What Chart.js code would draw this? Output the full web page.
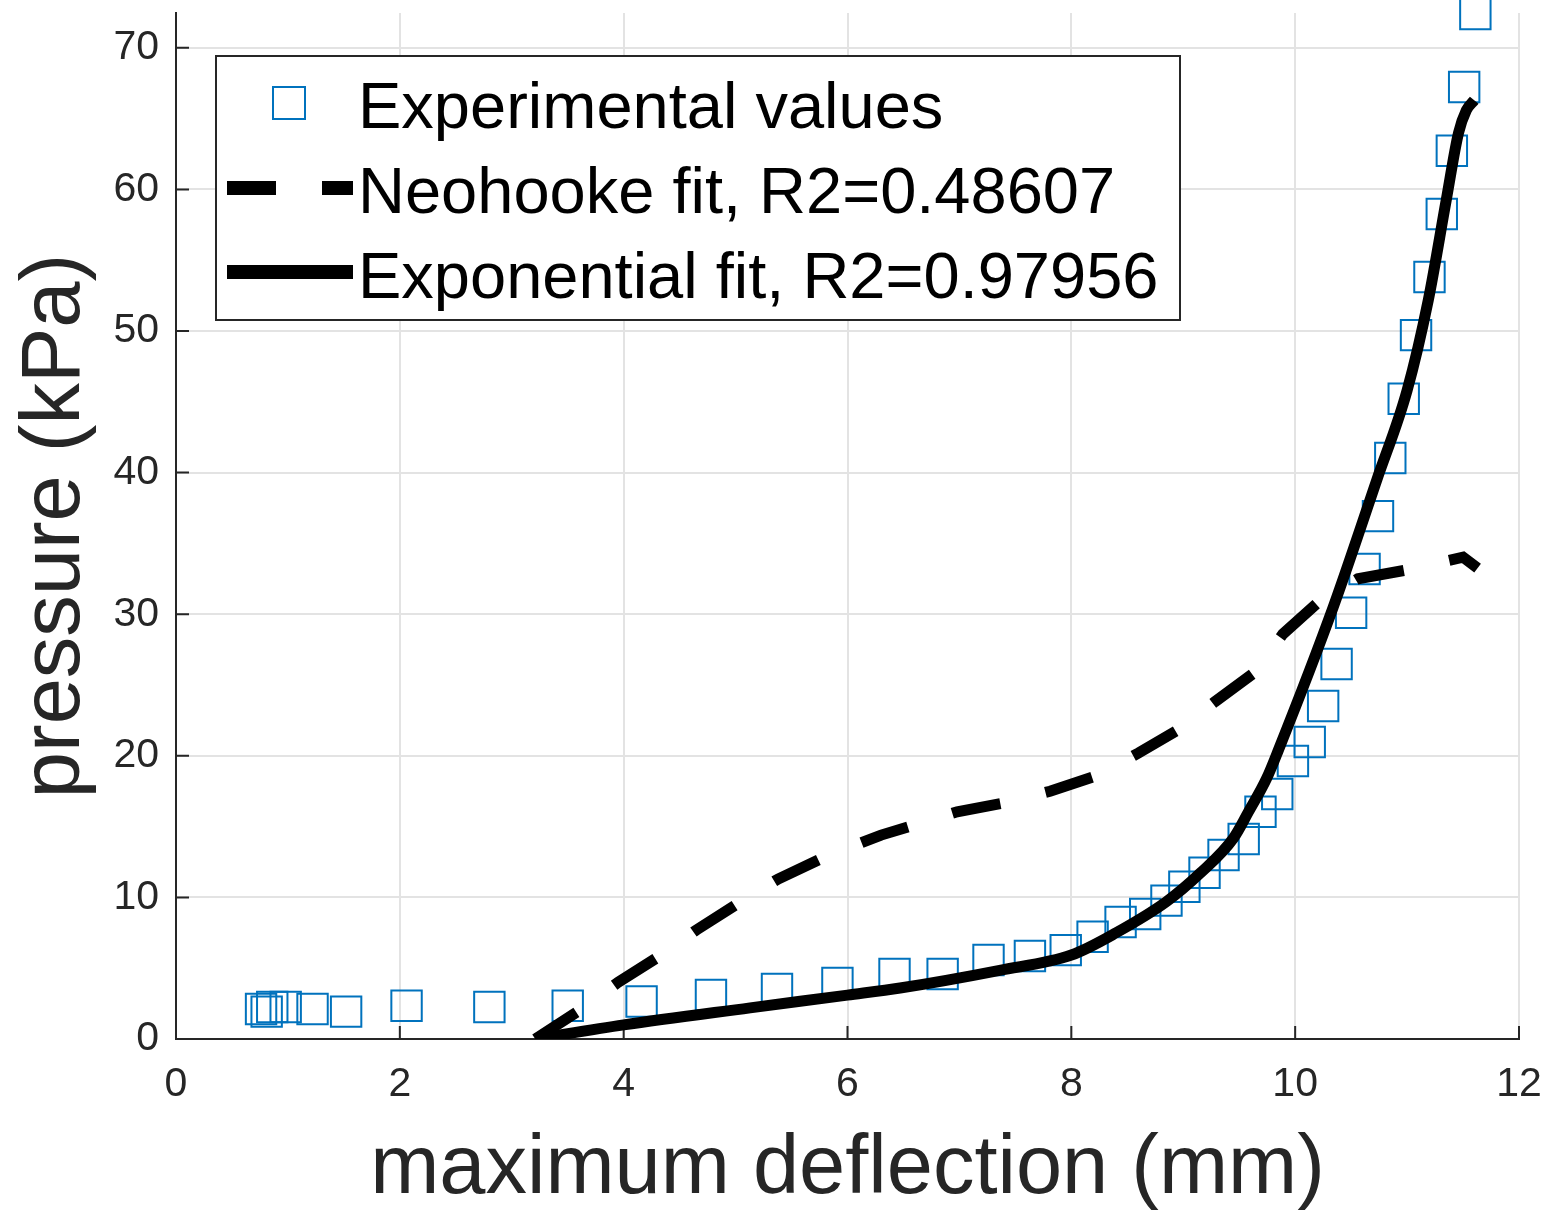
<!DOCTYPE html>
<html lang="en">
<head>
<meta charset="UTF-8">
<title>pressure vs maximum deflection</title>
<script src="https://cdn.jsdelivr.net/npm/chart.js"></script>
<style>
    * { margin: 0; padding: 0; box-sizing: border-box; }
    body { background: #fff; }
    .chart-box { position: relative; width: 1546px; height: 1215px; }
</style>
</head>
<body>
<div class="chart-box"><canvas id="fitChart"></canvas></div>
<script>
// measured points (deflection in mm, pressure in kPa)
const expDeflection = [0.76, 0.81, 0.86, 0.98, 1.22, 1.52, 2.06, 2.80, 3.50, 4.16, 4.78, 5.37, 5.91, 6.42, 6.85,
    7.26, 7.63, 7.95, 8.19, 8.44, 8.66, 8.85, 9.01, 9.19, 9.36, 9.54, 9.69, 9.84, 9.98, 10.13,
    10.25, 10.37, 10.50, 10.62, 10.74, 10.85, 10.97, 11.08, 11.20, 11.31, 11.40, 11.51, 11.61];
const expPressure = [2.12, 1.93, 2.26, 2.26, 2.12, 1.93, 2.35, 2.26, 2.35, 2.65, 3.11, 3.53, 3.95, 4.59, 4.59,
    5.58, 5.86, 6.28, 7.22, 8.26, 8.83, 9.77, 10.75, 11.74, 12.99, 14.12, 16.05, 17.30, 19.63, 20.97,
    23.52, 26.48, 30.10, 33.19, 36.93, 41.03, 45.22, 49.71, 53.81, 58.26, 62.73, 67.23, 72.38];

// Neohooke fit curve
const neoDeflection = [3.21, 3.64, 3.95, 4.34, 4.65, 5.04, 5.38, 5.78, 6.30, 6.59, 6.98, 7.42, 7.81, 8.23, 8.60,
    8.97, 9.28, 9.64, 9.89, 10.20, 10.56, 10.98, 11.37, 11.50, 11.63];
const neoPressure = [0.0, 2.2, 4.0, 5.95, 7.7, 9.67, 11.3, 12.8, 14.4, 15.1, 16.05, 16.7, 17.5, 18.6, 20.2,
    21.9, 23.8, 25.9, 28.6, 30.8, 32.5, 33.1, 33.8, 34.03, 33.25];

// Exponential fit curve
const expoDeflection = [3.21, 4.0, 5.13, 6.0, 6.47, 7.36, 8.0, 8.4, 8.85, 9.15, 9.45, 9.58, 9.745, 9.85, 10.34,
    10.73, 11.0, 11.19, 11.35, 11.46, 11.53, 11.6];
const expoPressure = [0.0, 1.0, 2.2, 3.1, 3.6, 4.85, 5.93, 7.5, 9.7, 11.7, 14.2, 16.0, 18.4, 20.4, 30.5,
    39.5, 45.8, 52.2, 59.25, 64.0, 65.6, 66.3];

const xTicks = [0, 2, 4, 6, 8, 10, 12];
const yTicks = [0, 10, 20, 30, 40, 50, 60, 70];
const legendLabels = ['Experimental values', 'Neohooke fit, R2=0.48607', 'Exponential fit, R2=0.97956'];

const toXY = (xs, ys) => xs.map((x, i) => ({ x: x, y: ys[i] }));
const FONT = '"Liberation Sans", Arial, sans-serif';
const AXIS = '#262626';
const BLUE = '#0072BD';

// matlab style ticks pointing inside the axes
const innerTicks = {
    id: 'innerTicks',
    beforeDatasetsDraw(chart) {
        const { ctx, chartArea, scales } = chart;
        ctx.save();
        ctx.strokeStyle = AXIS;
        ctx.lineWidth = 2;
        ctx.beginPath();
        xTicks.forEach(v => {
            const px = scales.x.getPixelForValue(v);
            ctx.moveTo(px, chartArea.bottom);
            ctx.lineTo(px, chartArea.bottom - 13);
        });
        yTicks.forEach(v => {
            const py = scales.y.getPixelForValue(v);
            ctx.moveTo(chartArea.left, py);
            ctx.lineTo(chartArea.left + 13, py);
        });
        ctx.stroke();
        ctx.restore();
    }
};

// legend box in the upper left corner
const legendBox = {
    id: 'legendBox',
    afterDatasetsDraw(chart) {
        const ctx = chart.ctx;
        ctx.save();
        ctx.fillStyle = '#fff';
        ctx.fillRect(216, 56, 964, 264);
        ctx.strokeStyle = AXIS;
        ctx.lineWidth = 2;
        ctx.strokeRect(216, 56, 964, 264);

        ctx.strokeStyle = BLUE;
        ctx.lineWidth = 2;
        ctx.strokeRect(273, 87, 32, 32);

        ctx.strokeStyle = '#000';
        ctx.lineWidth = 14;
        ctx.lineCap = 'butt';
        ctx.setLineDash([49, 46]);
        ctx.beginPath();
        ctx.moveTo(227, 188);
        ctx.lineTo(353, 188);
        ctx.stroke();
        ctx.setLineDash([]);
        ctx.beginPath();
        ctx.moveTo(227, 272);
        ctx.lineTo(353, 272);
        ctx.stroke();

        ctx.fillStyle = '#000';
        ctx.font = '65px ' + FONT;
        ctx.textBaseline = 'alphabetic';
        ctx.textAlign = 'left';
        legendLabels.forEach((t, i) => ctx.fillText(t, 358, 128 + i * 85));
        ctx.restore();
    }
};

new Chart(document.getElementById('fitChart').getContext('2d'), {
    type: 'scatter',
    data: {
        datasets: [
            {
                label: legendLabels[1],
                type: 'line',
                data: toXY(neoDeflection, neoPressure),
                borderColor: '#000',
                borderWidth: 11,
                borderDash: [49, 46.5],
                borderCapStyle: 'butt',
                pointRadius: 0,
                tension: 0,
                fill: false,
                order: 1
            },
            {
                label: legendLabels[2],
                type: 'line',
                data: toXY(expoDeflection, expoPressure),
                borderColor: '#000',
                borderWidth: 11,
                borderCapStyle: 'butt',
                pointRadius: 0,
                cubicInterpolationMode: 'monotone',
                fill: false,
                order: 0
            },
            {
                label: legendLabels[0],
                data: toXY(expDeflection, expPressure),
                pointStyle: 'rect',
                pointRadius: 21.5,
                pointHoverRadius: 21.5,
                pointBorderWidth: 2,
                pointBorderColor: BLUE,
                pointBackgroundColor: 'rgba(0,0,0,0)',
                clip: false,
                order: 2
            }
        ]
    },
    options: {
        responsive: true,
        maintainAspectRatio: false,
        animation: false,
        events: [],
        layout: { autoPadding: false, padding: { top: 13, right: 27, left: 0, bottom: 0 } },
        plugins: {
            legend: { display: false },
            tooltip: { enabled: false }
        },
        scales: {
            x: {
                type: 'linear',
                min: 0,
                max: 12,
                afterBuildTicks: s => { s.ticks = xTicks.map(v => ({ value: v })); },
                afterFit: s => { s.height = 176; s.paddingLeft = 0; s.paddingRight = 0; },
                grid: { color: '#e3e3e3', lineWidth: 2, drawTicks: false },
                border: { display: true, color: AXIS, width: 2 },
                ticks: { color: AXIS, font: { family: FONT, size: 41 }, padding: 21, maxRotation: 0 },
                title: {
                    display: true,
                    text: 'maximum deflection (mm)',
                    color: AXIS,
                    font: { family: FONT, size: 83, lineHeight: 1 },
                    padding: { top: 0, bottom: 3 }
                }
            },
            y: {
                type: 'linear',
                min: 0,
                max: 72.46,
                afterBuildTicks: s => { s.ticks = yTicks.map(v => ({ value: v })); },
                afterFit: s => { s.width = 176; s.paddingTop = 0; s.paddingBottom = 0; },
                grid: { color: '#e3e3e3', lineWidth: 2, drawTicks: false },
                border: { display: true, color: AXIS, width: 2 },
                ticks: { color: AXIS, font: { family: FONT, size: 41 }, padding: 17 },
                title: {
                    display: true,
                    text: 'pressure (kPa)',
                    color: AXIS,
                    font: { family: FONT, size: 83, lineHeight: 1 },
                    padding: { top: 15, bottom: 0 }
                }
            }
        }
    },
    plugins: [innerTicks, legendBox]
});
</script>
</body>
</html>
